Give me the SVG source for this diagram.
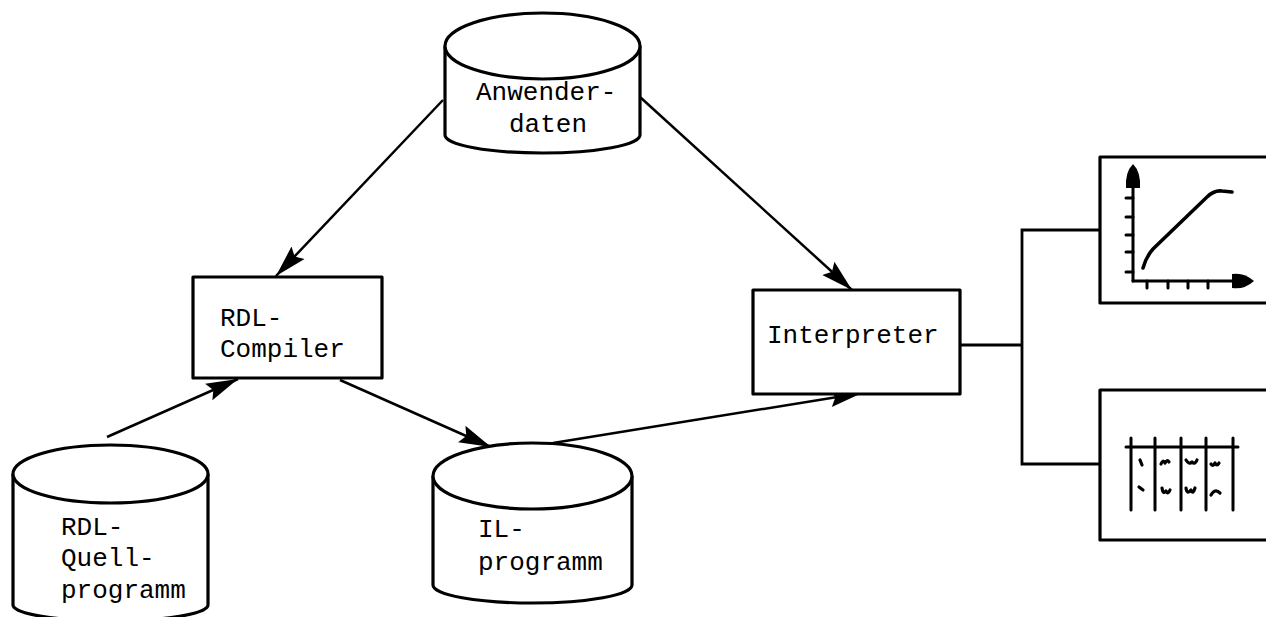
<svg xmlns="http://www.w3.org/2000/svg" width="1266" height="617" viewBox="0 0 1266 617">
<style>
.shape{fill:#fff;stroke:#000;stroke-width:3.2;stroke-linejoin:round}
.conn{fill:none;stroke:#000;stroke-width:2.5}
.bus{fill:none;stroke:#000;stroke-width:2.8}
.lbl{font-family:"Liberation Mono","Courier New",monospace;font-size:26px;fill:#000}
.ink{fill:none;stroke:#000;stroke-width:3;stroke-linecap:round}
.mark{fill:none;stroke:#000;stroke-width:3.2;stroke-linecap:round;stroke-linejoin:round}
</style>
<defs>
<marker id="ah" markerUnits="userSpaceOnUse" markerWidth="34" markerHeight="24" viewBox="0 0 34 24" refX="32" refY="12" orient="auto">
<path d="M0,3 L32,12 L0,21 L5,12 Z" fill="#000"/>
</marker>
</defs>
<rect width="1266" height="617" fill="#fff"/>

<g id="connectors">
<line class="conn" x1="443" y1="100" x2="276" y2="276" marker-end="url(#ah)"/>
<line class="conn" x1="640" y1="97" x2="852" y2="290" marker-end="url(#ah)"/>
<line class="conn" x1="107" y1="437" x2="238" y2="379" marker-end="url(#ah)"/>
<line class="conn" x1="340" y1="380" x2="491" y2="447" marker-end="url(#ah)"/>
<line class="conn" x1="553" y1="443" x2="862" y2="393" marker-end="url(#ah)"/>
<polyline class="bus" points="960,345 1022,345"/>
<polyline class="bus" points="1100,230 1022,230 1022,464 1100,464"/>
</g>

<g id="anwenderdaten">
<path class="shape" d="M445,46 L445,135 A97.5,18 0 0 0 640,135 L640,46"/>
<ellipse class="shape" cx="542.5" cy="46" rx="97.5" ry="33"/>
<text class="lbl" x="476" y="100">Anwender-</text>
<text class="lbl" x="509" y="132">daten</text>
</g>

<g id="rdl-compiler">
<rect class="shape" x="193" y="277" width="189" height="101"/>
<text class="lbl" x="220" y="326">RDL-</text>
<text class="lbl" x="220" y="357">Compiler</text>
</g>

<g id="interpreter">
<rect class="shape" x="753" y="290" width="207" height="104"/>
<text class="lbl" x="767" y="343">Interpreter</text>
</g>

<g id="rdl-quellprogramm">
<path class="shape" d="M13,474 L13,605 A97.5,16 0 0 0 208,605 L208,474"/>
<ellipse class="shape" cx="110.5" cy="474" rx="97.5" ry="29"/>
<text class="lbl" x="61" y="535">RDL-</text>
<text class="lbl" x="61" y="566">Quell-</text>
<text class="lbl" x="61" y="598">programm</text>
</g>

<g id="il-programm">
<path class="shape" d="M433,476 L433,585 A99.5,18 0 0 0 632,585 L632,476"/>
<ellipse class="shape" cx="532.5" cy="476" rx="99.5" ry="33"/>
<text class="lbl" x="478" y="537">IL-</text>
<text class="lbl" x="478" y="570">programm</text>
</g>

<g id="chart-output">
<rect class="shape" x="1100" y="157" width="180" height="146"/>
<line class="ink" x1="1133" y1="182" x2="1133" y2="281"/>
<path d="M1133,164 Q1141,172 1140,188 L1126,188 Q1125,172 1133,164 Z" fill="#000"/>
<line class="ink" x1="1133" y1="281" x2="1236" y2="281"/>
<path d="M1254,281 Q1244,290 1232,288 L1232,274 Q1244,272 1254,281 Z" fill="#000"/>
<path class="ink" d="M1126,198 H1133 M1126,217 H1133 M1126,235 H1133 M1126,252 H1133 M1126,272 H1133 M1147,281 V288 M1168,281 V288 M1188,281 V288 M1208,281 V288"/>
<path class="ink" style="stroke-width:3.5" d="M1143,268 Q1146,257 1153,249 L1207,197 Q1214,190 1222,191 L1232,192"/>
</g>

<g id="table-output">
<rect class="shape" x="1100" y="390" width="180" height="150"/>
<line class="ink" x1="1126" y1="447" x2="1238" y2="447"/>
<path class="ink" d="M1131,438 V510 M1155,438 V510 M1181,438 V510 M1206,438 V510 M1233,438 V510"/>
<path class="mark" d="M1140,460 L1142,465 M1139,487 L1143,490 M1161,464 Q1163,459 1165,463 Q1167,459 1169,462 M1186,460 Q1189,465 1192,462 Q1195,465 1197,460 M1211,464 Q1213,467 1215,463 Q1217,467 1219,463 M1162,488 Q1163,495 1166,491 Q1168,495 1170,490 M1186,488 Q1187,495 1191,490 Q1193,495 1195,488 M1211,495 Q1215,488 1220,493"/>
</g>
</svg>
